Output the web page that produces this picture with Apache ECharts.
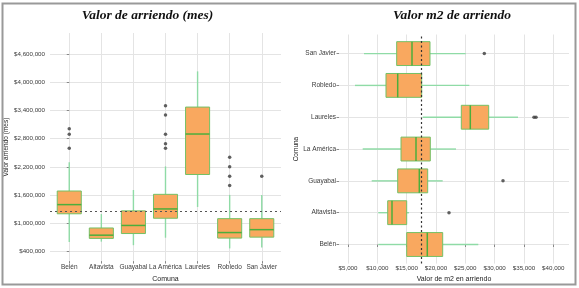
<!DOCTYPE html>
<html>
<head>
<meta charset="utf-8">
<script src="https://cdn.jsdelivr.net/npm/echarts@6/dist/echarts.min.js"></script>
<style>
  html, body { margin: 0; padding: 0; background: #fff; }
  #chart { width: 579px; height: 288px; }
</style>
</head>
<body>
<div id="chart"></div>
<script>
const comunas = ["Belén", "Altavista", "Guayabal", "La América", "Laureles", "Robledo", "San Javier"];

// valor de arriendo mensual: [min, q1, mediana, q3, max]
const arriendoMes = [
  [593000, 1196000, 1392000, 1683000, 2298000],
  [601000, 670000, 739000, 893000, 1190000],
  [525000, 774000, 947000, 1259000, 1704000],
  [685000, 1101000, 1300000, 1612000, 2209000],
  [1342000, 2036000, 2901000, 3477000, 4240000],
  [456000, 677000, 795000, 1092000, 1600000],
  [477000, 697000, 857000, 1092000, 1600000]
];
const arriendoMesAtipicos = [
  ["Belén", 3013000], ["Belén", 2895000], ["Belén", 2598000],
  ["La América", 3504000], ["La América", 3305000], ["La América", 2895000],
  ["La América", 2693000], ["La América", 2598000],
  ["Robledo", 2402000], ["Robledo", 2202000], ["Robledo", 2001000], ["Robledo", 1799000],
  ["San Javier", 2001000]
];
const arriendoMesRef = 1246000;
const arriendoMesTicks = [400000, 1000000, 1600000, 2200000, 2800000, 3400000, 4000000, 4600000];

// valor m2 de arriendo: [min, q1, mediana, q3, max]
const valorM2 = [
  [10166, 15008, 18520, 21146, 27217],
  [10166, 11769, 12502, 15008, 15400],
  [9041, 13474, 17157, 18588, 21146],
  [7506, 14037, 16594, 19032, 23414],
  [17736, 24318, 25853, 28989, 33985],
  [6194, 11479, 13474, 17565, 25682],
  [7728, 13300, 15912, 18981, 25068]
];
const valorM2Atipicos = [
  ["Altavista", 22221], ["Guayabal", 31428],
  ["Laureles", 36713], ["Laureles", 37054],
  ["San Javier", 28240]
];
const valorM2Ref = 17450;
const valorM2Ticks = [5000, 10000, 15000, 20000, 25000, 30000, 35000, 40000];

const catIdx = comunas.map((c, i) => i);
const money = v => "$" + Math.round(v).toString().replace(/\B(?=(\d{3})+(?!\d))/g, ",");

const fill = "#f9a85f", border = "#74c065", median = "#4cae3c", whisker = "#8fdba6";

function cajaItem(horizontal) {
  return function (params, api) {
    const c = api.value(0);
    const v = [1, 2, 3, 4, 5].map(i => api.value(i));
    const pt = (val, off) => horizontal ? api.coord([val, c + (off || 0)]) : api.coord([c + (off || 0), val]);
    const a = pt(v[2], -0.375), b = pt(v[2], 0.375);
    const half = Math.abs(horizontal ? a[1] - b[1] : a[0] - b[0]) / 2;
    const seg = (p, q, style) => ({ type: "line", shape: { x1: p[0], y1: p[1], x2: q[0], y2: q[1] }, style });
    const q1 = pt(v[1]), q3 = pt(v[3]), m = pt(v[2]);
    const rect = horizontal
      ? { x: q1[0], y: q1[1] - half, width: q3[0] - q1[0], height: 2 * half }
      : { x: q3[0] - half, y: q3[1], width: 2 * half, height: q1[1] - q3[1] };
    const medLine = horizontal
      ? seg([m[0], m[1] - half], [m[0], m[1] + half], { stroke: median, lineWidth: 1.5 })
      : seg([m[0] - half, m[1]], [m[0] + half, m[1]], { stroke: median, lineWidth: 1.5 });
    const ws = { stroke: whisker, lineWidth: 1.4 };
    return {
      type: "group",
      children: [
        seg(pt(v[0]), q1, ws),
        seg(q3, pt(v[4]), ws),
        { type: "rect", shape: rect, style: { fill: fill, stroke: border, lineWidth: 1 } },
        medLine
      ]
    };
  };
}

const tickStyle = { show: true, length: 2.5, lineStyle: { color: "#888" } };
const gridLine = { show: true, lineStyle: { color: "#e4e4e4", width: 1 } };
const numLabel = { fontFamily: "Liberation Sans", fontSize: 6.2, color: "#3a3a3a" };
const catLabel = { fontFamily: "Liberation Sans", fontSize: 6.5, color: "#3a3a3a" };
const nameStyle = { fontFamily: "Liberation Sans", fontSize: 7, color: "#222" };

const chart = echarts.init(document.getElementById("chart"));
chart.setOption({
  animation: false,
  backgroundColor: "#fff",
  grid: [
    { left: 50, top: 33, width: 231, height: 234 },
    { left: 339, top: 34.5, width: 230, height: 234.3 }
  ],
  xAxis: [
    {
      type: "value", gridIndex: 0, min: -0.6, max: 6.6,
      axisLine: { show: false },
      axisTick: Object.assign({ customValues: catIdx }, tickStyle),
      axisLabel: Object.assign({ customValues: catIdx, margin: 3, formatter: v => comunas[Math.round(v)] }, catLabel),
      splitLine: gridLine,
      name: "Comuna", nameLocation: "middle", nameGap: 11, nameTextStyle: nameStyle
    },
    {
      type: "value", gridIndex: 1, min: 3466, max: 42680,
      axisLine: { show: false },
      axisTick: Object.assign({ customValues: valorM2Ticks }, tickStyle),
      axisLabel: Object.assign({ customValues: valorM2Ticks, margin: 1.5, formatter: money }, numLabel),
      splitLine: gridLine,
      name: "Valor de m2 en arriendo", nameLocation: "middle", nameGap: 8.5, nameTextStyle: nameStyle
    }
  ],
  yAxis: [
    {
      type: "value", gridIndex: 0, min: 185000, max: 5060000,
      axisLine: { show: false },
      axisTick: Object.assign({ customValues: arriendoMesTicks }, tickStyle),
      axisLabel: Object.assign({ customValues: arriendoMesTicks, margin: 5, formatter: money }, numLabel),
      splitLine: gridLine,
      name: "Valor arriendo (mes)", nameLocation: "middle", nameRotate: 90, nameGap: 39,
      nameTextStyle: Object.assign({}, nameStyle, { fontSize: 6.5 })
    },
    {
      type: "value", gridIndex: 1, min: -0.6, max: 6.6,
      axisLine: { show: false },
      axisTick: Object.assign({ customValues: catIdx }, tickStyle),
      axisLabel: Object.assign({ customValues: catIdx, margin: 3, formatter: v => comunas[Math.round(v)] }, catLabel),
      splitLine: gridLine,
      name: "Comuna", nameLocation: "middle", nameRotate: 90, nameGap: 39,
      nameTextStyle: Object.assign({}, nameStyle, { fontSize: 6.5 })
    }
  ],
  series: [
    {
      type: "custom", xAxisIndex: 0, yAxisIndex: 0, z: 2,
      renderItem: cajaItem(false),
      encode: { x: 0, y: [1, 2, 3, 4, 5] },
      data: arriendoMes.map((d, i) => [i].concat(d))
    },
    {
      type: "scatter", xAxisIndex: 0, yAxisIndex: 0, z: 3,
      symbolSize: 3.5, itemStyle: { color: "#3a3a3a" },
      data: arriendoMesAtipicos.map(([n, v]) => [comunas.indexOf(n), v]),
      markLine: {
        silent: true, symbol: "none", label: { show: false },
        lineStyle: { type: [2, 3], color: "#555", width: 1.2 },
        data: [{ yAxis: arriendoMesRef }]
      }
    },
    {
      type: "custom", xAxisIndex: 1, yAxisIndex: 1, z: 2,
      renderItem: cajaItem(true),
      encode: { y: 0, x: [1, 2, 3, 4, 5] },
      data: valorM2.map((d, i) => [i].concat(d))
    },
    {
      type: "scatter", xAxisIndex: 1, yAxisIndex: 1, z: 3,
      symbolSize: 3.5, itemStyle: { color: "#3a3a3a" },
      data: valorM2Atipicos.map(([n, v]) => [v, comunas.indexOf(n)]),
      markLine: {
        silent: true, symbol: "none", label: { show: false },
        lineStyle: { type: [2, 2.5], color: "#333", width: 1.2 },
        data: [{ xAxis: valorM2Ref }]
      }
    }
  ],
  graphic: [
    {
      type: "rect", silent: true, z: 10,
      shape: { x: 2.5, y: 3.5, width: 573, height: 281 },
      style: { fill: "none", stroke: "#999", lineWidth: 2 }
    },
    {
      type: "text", x: 147.5, y: 16, z: 10,
      style: {
        text: "Valor de arriendo (mes)", textAlign: "center", textVerticalAlign: "middle",
        font: "italic bold 13.5px 'Liberation Serif'", fill: "#111"
      }
    },
    {
      type: "text", x: 452, y: 16, z: 10,
      style: {
        text: "Valor m2 de arriendo", textAlign: "center", textVerticalAlign: "middle",
        font: "italic bold 13.5px 'Liberation Serif'", fill: "#111"
      }
    }
  ]
});
</script>
</body>
</html>
